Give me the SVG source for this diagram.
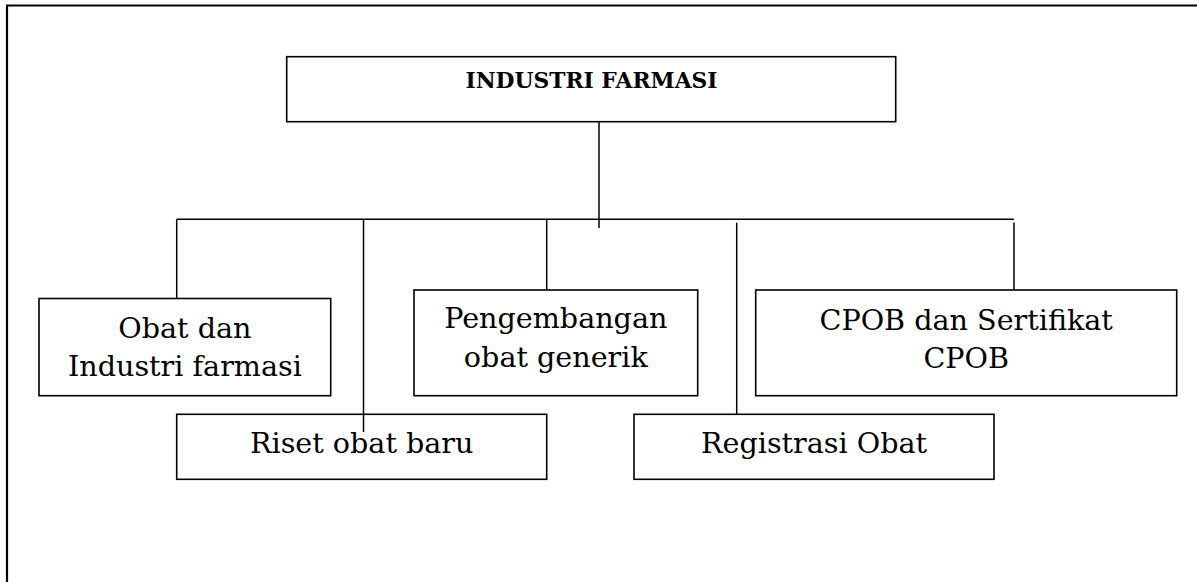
<svg xmlns="http://www.w3.org/2000/svg" width="1197" height="582" viewBox="0 0 1197 582">
<style>
.box{fill:#fff;stroke:#000;stroke-width:1.6}
.frame{fill:none;stroke:#000;stroke-width:2.2}
.conn line{stroke:#000;stroke-width:1.5}
.t{font-family:"DejaVu Serif","Liberation Serif",serif;font-size:28.6px;fill:#000;text-anchor:middle}
.title{font-family:"DejaVu Serif","Liberation Serif",serif;font-size:21.8px;font-weight:bold;fill:#000;text-anchor:middle}
</style>
<rect width="1197" height="582" fill="#fff"/>
<path class="frame" d="M7,600 V5.5 H1200"/>
<g id="connectors" class="conn">
<line x1="176.7" y1="219.3" x2="1014" y2="219.3"/>
<line x1="176.7" y1="219.3" x2="176.7" y2="298.5"/>
<line x1="363.5" y1="219.3" x2="363.5" y2="432"/>
<line x1="546.7" y1="219.3" x2="546.7" y2="290"/>
<line x1="599" y1="116.7" x2="599" y2="228"/>
<line x1="736.7" y1="222.7" x2="736.7" y2="414.3"/>
<line x1="1014" y1="222.5" x2="1014" y2="290"/>
</g>
<g id="industri-farmasi">
<rect class="box" x="286.7" y="56.7" width="609" height="65"/>
<text class="title" x="591.5" y="88.3">INDUSTRI FARMASI</text>
</g>
<g id="obat-dan-industri">
<rect class="box" x="39" y="298.5" width="291.7" height="97.2"/>
<text class="t" x="184.9" y="337.7">Obat dan</text>
<text class="t" x="184.9" y="376">Industri farmasi</text>
</g>
<g id="pengembangan">
<rect class="box" x="414" y="290" width="283.7" height="105.7"/>
<text class="t" x="555.8" y="328.3">Pengembangan</text>
<text class="t" x="555.8" y="366.7">obat generik</text>
</g>
<g id="cpob">
<rect class="box" x="755.7" y="290" width="421" height="105.7"/>
<text class="t" x="966.2" y="330">CPOB dan Sertifikat</text>
<text class="t" x="966.2" y="367.7">CPOB</text>
</g>
<g id="riset">
<rect class="box" x="176.7" y="414.3" width="370" height="65"/>
<text class="t" x="361.7" y="453.3">Riset obat baru</text>
</g>
<g id="registrasi">
<rect class="box" x="634" y="414.3" width="360" height="65"/>
<text class="t" x="814" y="453.3">Registrasi Obat</text>
</g>
<line x1="363.5" y1="414.3" x2="363.5" y2="432" stroke="#000" stroke-width="1.5"/>
</svg>
